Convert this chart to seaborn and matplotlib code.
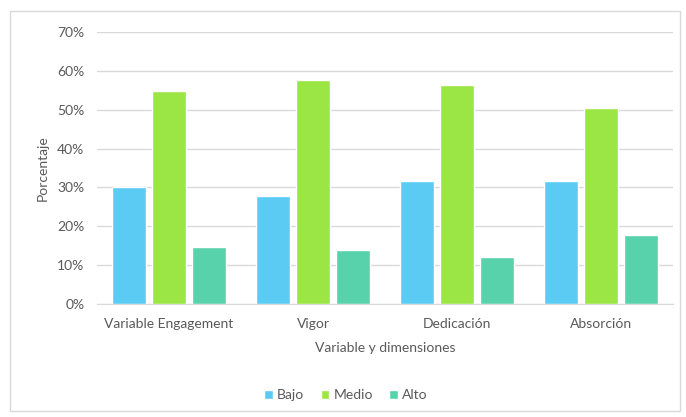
import matplotlib
matplotlib.use('Agg')
import matplotlib.pyplot as plt
from matplotlib.patches import Rectangle
from matplotlib.ticker import PercentFormatter
import seaborn as sns
import pandas as pd

# Data
categories = ['Variable Engagement', 'Vigor', 'Dedicación', 'Absorción']
niveles = ['Bajo', 'Medio', 'Alto']
bajo = [30.1, 27.9, 31.7, 31.7]
medio = [54.8, 57.7, 56.3, 50.4]
alto = [14.7, 14.0, 12.1, 17.7]
colores = ['#5ccbf3', '#9be544', '#58d2ab']
yticks = [0, 10, 20, 30, 40, 50, 60, 70]

df = pd.DataFrame({
    'cat': categories * 3,
    'nivel': [n for n in niveles for _ in categories],
    'valor': bajo + medio + alto,
})

sns.set_style('white')
plt.rcParams['font.family'] = ['Lato', 'DejaVu Sans']
gris = '#595959'

fig = plt.figure(figsize=(6.86, 4.17), dpi=100)
ax = fig.add_axes([97 / 686, 1 - 304 / 417, 576 / 686, 272 / 417])

sns.barplot(data=df, x='cat', y='valor', hue='nivel',
            order=categories, hue_order=niveles,
            palette=colores, width=0.83, gap=0.15,
            saturation=1, ax=ax, zorder=3)

ax.set_ylim(0, 70)
ax.set_yticks(yticks)
ax.yaxis.set_major_formatter(PercentFormatter(decimals=0))
ax.grid(axis='y', color='#d9d9d9', linewidth=1, zorder=0)
ax.set_axisbelow(True)
for s in ['top', 'right', 'left']:
    ax.spines[s].set_visible(False)
ax.spines['bottom'].set_color('#d9d9d9')
ax.tick_params(axis='both', length=0, labelsize=10, colors=gris)
ax.tick_params(axis='y', pad=9)
ax.tick_params(axis='x', pad=10)
ax.set_xlabel('Variable y dimensiones', fontsize=10, color=gris, labelpad=9)
ax.set_ylabel('Porcentaje', fontsize=10, color=gris, labelpad=6)

ax.legend(loc='center', bbox_to_anchor=(346 / 686, 1 - 395 / 417),
          bbox_transform=fig.transFigure, ncol=3, frameon=False,
          fontsize=10, handlelength=0.6, handleheight=0.6,
          handletextpad=0.3, columnspacing=1.2, labelcolor=gris)

fig.patches.append(Rectangle((10 / 686, 1 - 411 / 417), 670 / 686, 400 / 417,
                             transform=fig.transFigure, fill=False,
                             edgecolor='#d9d9d9', linewidth=1))

fig.savefig('out.png', dpi=100)
